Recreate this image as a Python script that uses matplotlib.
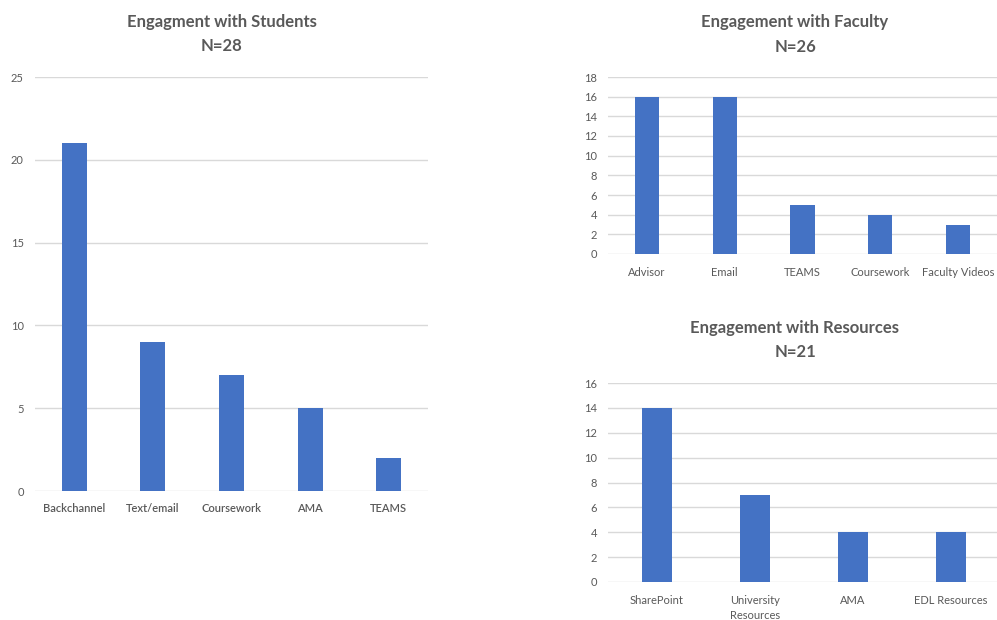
import matplotlib
matplotlib.use("Agg")
import matplotlib.pyplot as plt

plt.rcParams['font.family'] = ['Lato', 'DejaVu Sans']

# Survey counts
student_cats = ["Backchannel", "Text/email", "Coursework", "AMA", "TEAMS"]
student_vals = [21, 9, 7, 5, 2]

faculty_cats = ["Advisor", "Email", "TEAMS", "Coursework", "Faculty Videos"]
faculty_vals = [16, 16, 5, 4, 3]

resource_cats = ["SharePoint", "University\nResources", "AMA", "EDL Resources"]
resource_vals = [14, 7, 4, 4]

BAR = "#4472C4"
GRID = "#d9d9d9"
TXT = "#595959"

fig = plt.figure(figsize=(9.97, 6.2), dpi=100)


def bar_panel(rect, cats, vals, ymax, ystep, bar_w, xlab_weight="normal"):
    ax = fig.add_axes(rect)
    x = range(len(cats))
    ax.bar(x, vals, width=bar_w, color=BAR, zorder=3)
    ax.set_xlim(-0.5, len(cats) - 0.5)
    ax.set_ylim(0, ymax)
    ax.set_yticks(range(0, ymax + 1, ystep))
    ax.set_xticks(list(x))
    ax.set_xticklabels(cats, fontsize=8, color=TXT, weight=xlab_weight,
                       linespacing=1.5, va="top")
    ax.tick_params(axis="y", labelsize=8, colors=TXT, length=0, pad=8)
    ax.tick_params(axis="x", length=0, pad=9)
    ax.grid(axis="y", color=GRID, linewidth=1, zorder=0)
    for s in ax.spines.values():
        s.set_visible(False)
    ax.set_axisbelow(True)
    return ax


W, H = 997, 620


def rect(x0, x1, ytop, ybot):
    return [x0 / W, 1 - ybot / H, (x1 - x0) / W, (ybot - ytop) / H]


bar_panel(rect(35, 428, 77, 491), student_cats, student_vals, 25, 5, 0.32,
          xlab_weight="semibold")
bar_panel(rect(608, 997, 77, 254), faculty_cats, faculty_vals, 18, 2, 0.31)
bar_panel(rect(608, 1000, 383, 582), resource_cats, resource_vals, 16, 2, 0.31)


def title(xc, y1, y2, line1, line2):
    fig.text(xc / W, 1 - y1 / H, line1, ha="center", va="center",
             fontsize=12, weight="bold", color=TXT)
    fig.text(xc / W, 1 - y2 / H, line2, ha="center", va="center",
             fontsize=12, weight="bold", color=TXT)


title(222, 22, 46, "Engagment with Students", "N=28")
title(795, 22, 47, "Engagement with Faculty", "N=26")
title(795, 328, 352, "Engagement with Resources", "N=21")

fig.savefig("out.png", dpi=100, facecolor="white")
